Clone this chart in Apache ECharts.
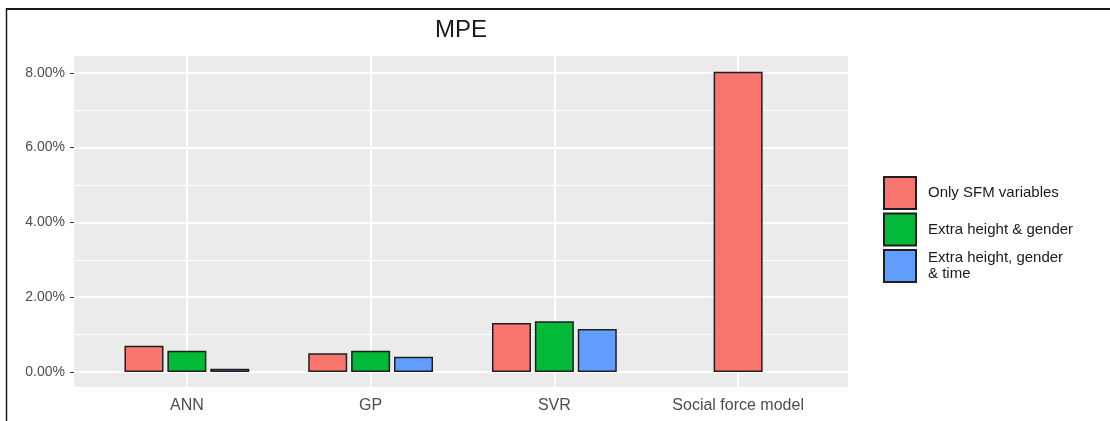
<!DOCTYPE html>
<html>
<head>
<meta charset="utf-8">
<script src="https://cdn.jsdelivr.net/npm/echarts@6/dist/echarts.min.js"></script>
<style>
  html, body { margin: 0; padding: 0; background: #ffffff; }
  #chart { width: 1110px; height: 421px; }
</style>
</head>
<body>
<div id="chart"></div>
<script>
// Mean percentage error per model and feature set
const categories = ['ANN', 'GP', 'SVR', 'Social force model'];
const seriesNames = ['Only SFM variables', 'Extra height & gender', 'Extra height, gender & time'];
const onlySfm = [0.70, 0.50, 1.31, 8.03];
const extraHeightGender = [0.57, 0.57, 1.36, null];
const extraHeightGenderTime = [0.09, 0.41, 1.15, null];
const yTicks = [0, 2, 4, 6, 8];
const yMinorTicks = [1, 3, 5, 7];

const colors = ['#F8766D', '#00BA38', '#619CFF'];
const yMin = -0.40, yMax = 8.45;
const barBorder = { borderColor: '#1f1f1f', borderWidth: 1.5 };
const font = 'Liberation Sans, Arial, sans-serif';

// categories where only the first feature set has a value get one centred bar
const solo = extraHeightGender.map(v => v == null);
const sfmGrouped = onlySfm.map((v, i) => solo[i] ? null : v);
const sfmSolo = onlySfm.map((v, i) => solo[i] ? v : null);

const chart = echarts.init(document.getElementById('chart'), null, { renderer: 'canvas' });

const option = {
  animation: false,
  backgroundColor: '#ffffff',
  title: {
    text: 'MPE',
    left: 461,
    top: 18,
    padding: 0,
    textAlign: 'center',
    textStyle: { fontFamily: font, fontSize: 24, fontWeight: 'normal', color: '#1a1a1a' }
  },
  graphic: [
    { type: 'line', shape: { x1: 6, y1: 9, x2: 1110, y2: 9 }, style: { stroke: '#1a1a1a', lineWidth: 2 } },
    { type: 'line', shape: { x1: 6.5, y1: 8, x2: 6.5, y2: 421 }, style: { stroke: '#1a1a1a', lineWidth: 1.5 } }
  ],
  legend: {
    data: seriesNames,
    orient: 'vertical',
    left: 883,
    top: 176,
    padding: 0,
    itemWidth: 32,
    itemHeight: 32,
    itemGap: 2.5,
    icon: 'rect',
    selectedMode: false,
    formatter: name => name === 'Extra height, gender & time' ? 'Extra height, gender\n& time' : name,
    textStyle: { fontFamily: font, fontSize: 15, lineHeight: 16, color: '#1a1a1a', padding: [0, 0, 0, 7] }
  },
  grid: [
    { left: 74, top: 56, width: 774, height: 331, show: true, backgroundColor: '#EBEBEB', borderWidth: 0 },
    { left: 95, top: 56, width: 735, height: 331, show: false }
  ],
  xAxis: [
    { type: 'value', gridIndex: 0, min: 0, max: 1, show: false },
    {
      type: 'category', gridIndex: 1, data: categories,
      axisLine: { show: false },
      axisTick: { show: true, alignWithLabel: true, length: 4, lineStyle: { color: '#333333', width: 1 } },
      axisLabel: { fontFamily: font, fontSize: 16, color: '#4D4D4D', margin: 11 },
      splitLine: { show: false }
    },
    { type: 'category', gridIndex: 1, data: categories, show: false }
  ],
  yAxis: [
    {
      type: 'value', gridIndex: 0, min: yMin, max: yMax,
      axisLine: { show: false },
      axisTick: { show: true, customValues: yTicks, length: 4, lineStyle: { color: '#333333', width: 1 } },
      axisLabel: {
        customValues: yTicks, fontFamily: font, fontSize: 14, color: '#4D4D4D', margin: 9,
        formatter: v => v.toFixed(2) + '%'
      },
      splitLine: { show: false }
    },
    { type: 'value', gridIndex: 1, min: yMin, max: yMax, show: false, splitLine: { show: false } }
  ],
  series: [
    {
      name: 'hgrid', type: 'line', xAxisIndex: 0, yAxisIndex: 0, data: [], z: 1, silent: true,
      markLine: {
        z: 1, silent: true, symbol: ['none', 'none'], label: { show: false }, animation: false,
        lineStyle: { color: '#ffffff', type: 'solid' },
        data: yTicks.map(v => ({ yAxis: v, lineStyle: { width: 2, color: '#ffffff', type: 'solid' } }))
          .concat(yMinorTicks.map(v => ({ yAxis: v, lineStyle: { width: 1, color: '#ffffff', type: 'solid' } })))
      }
    },
    {
      name: 'vgrid', type: 'line', xAxisIndex: 1, yAxisIndex: 1, data: [], z: 1, silent: true,
      markLine: {
        z: 1, silent: true, symbol: ['none', 'none'], label: { show: false }, animation: false,
        lineStyle: { color: '#ffffff', type: 'solid', width: 2 },
        data: categories.map(c => ({ xAxis: c }))
      }
    },
    {
      name: seriesNames[0], type: 'bar', xAxisIndex: 1, yAxisIndex: 1, data: sfmGrouped,
      barWidth: 39, barGap: '10%', itemStyle: Object.assign({ color: colors[0] }, barBorder), z: 3
    },
    {
      name: seriesNames[1], type: 'bar', xAxisIndex: 1, yAxisIndex: 1, data: extraHeightGender,
      barWidth: 39, barGap: '10%', itemStyle: Object.assign({ color: colors[1] }, barBorder), z: 3
    },
    {
      name: seriesNames[2], type: 'bar', xAxisIndex: 1, yAxisIndex: 1, data: extraHeightGenderTime,
      barWidth: 39, barGap: '10%', itemStyle: Object.assign({ color: colors[2] }, barBorder), z: 3
    },
    {
      name: seriesNames[0], type: 'bar', xAxisIndex: 2, yAxisIndex: 1, data: sfmSolo,
      barWidth: 49, itemStyle: Object.assign({ color: colors[0] }, barBorder), z: 3
    }
  ]
};

chart.setOption(option);
</script>
</body>
</html>
